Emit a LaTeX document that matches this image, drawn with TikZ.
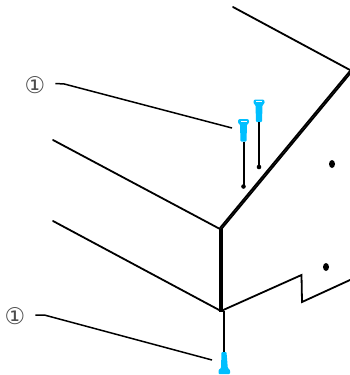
\documentclass[tikz,border=0pt]{standalone}
\usepackage{fontspec}
\newfontfamily\callfont{DejaVu Sans}
\definecolor{screwblue}{HTML}{00BFFF}
\usetikzlibrary{shapes.geometric}
\tikzset{
  edgeline/.style={line width=1.8pt,line cap=round,line join=miter},
  heavyline/.style={line width=4.2pt},
  leaderline/.style={line width=1.5pt},
  callout/.style={inner sep=0pt,outer sep=10pt,font=\callfont\fontsize{23pt}{23pt}\selectfont,text=black!70},
  holedot/.style={fill=black,ellipse,minimum width=6pt,minimum height=8pt,inner sep=0pt},
  screwup/.pic={
    \fill[screwblue,rounded corners=0.8pt] (-5.5,0) -- (-4.5,-1.5) -- (4.5,-1.5) -- (5.5,0) -- (5.5,2.5) -- (3.5,4) -- (3,21) -- (-3,21) -- (-3.5,4) -- (-5.5,2.5) -- cycle;
    \fill[white] (-3,0) rectangle (3,1.2);
    \draw[line width=2pt] (0,21) -- (0,\screwlen);
    \fill (0,\screwlen) circle (2.3pt);
  },
}
\begin{document}
\begin{tikzpicture}[x=1pt,y=-1pt]
  \useasboundingbox (0,0) rectangle (350,375);
  % roof and wall
  \draw[edgeline] (233,7) -- (350,70);
  \draw[edgeline] (53,140) -- (220,229);
  \draw[edgeline] (53,221) -- (221,311);
  \draw[edgeline] (350,71) -- (220,228);
  \draw[edgeline] (351,72.5) -- (221,229.5);
  \draw[heavyline] (221,229) -- (221,312);
  \draw[edgeline] (221,311) -- (301.5,275) -- (302,302) -- (350,280);
  % holes
  \node[holedot] (holeup) at (332,164) {};
  \node[holedot] (holelow) at (326,267) {};
  % screws
  \def\screwlen{66}
  \pic at (243.5,120.5) {screwup};
  \pic at (259,101) {screwup};
  \draw[line width=2pt] (224,311) -- (224,353);
  \fill[screwblue,rounded corners=0.8pt] (221.5,352) -- (226.5,352) -- (227.8,368) -- (230,370) -- (230,374) -- (218.5,374) -- (218.5,370) -- (221,368) -- cycle;
  % callouts
  \node[callout] (callup) at (35,85) {①};
  \node[callout] (calllow) at (15,316) {①};
  \coordinate (tipup) at (232,128);
  \coordinate (tiplow) at (212,360);
  \draw[leaderline] ([yshift=1.5pt]callup.east) -- ++(9,0.5) -- (tipup);
  \draw[leaderline] ([yshift=1pt]calllow.east) -- ++(9,0) -- (tiplow);
\end{tikzpicture}
\end{document}
